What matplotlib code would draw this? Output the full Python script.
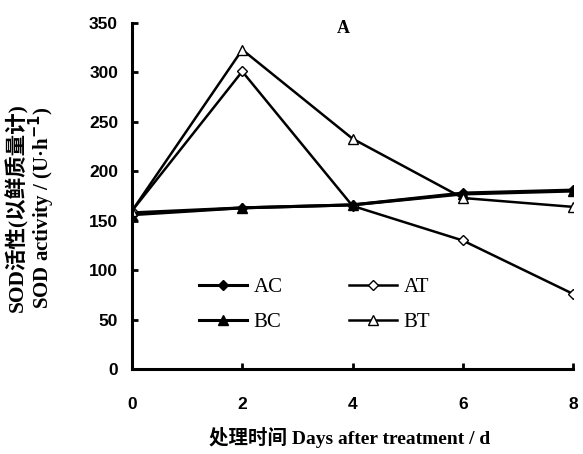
import matplotlib.pyplot as plt

days = [0, 2, 4, 6, 8]
ac = [158, 163, 166, 178, 181]
at = [160, 301, 165, 130, 76]
bc = [156, 163, 166, 177, 180]
bt = [160, 323, 233, 173, 164]

plt.rcParams['font.family'] = ['Liberation Serif', 'Noto Sans CJK SC']

fig = plt.figure(figsize=(5.83, 4.54), dpi=100)
ax = fig.add_axes([132 / 583, 1 - 369 / 454, 441 / 583, 346 / 454])

l_ac, = ax.plot(days, ac, color='black', lw=2.2, marker='D', ms=5, mfc='black', label='AC')
l_at, = ax.plot(days, at, color='black', lw=1.8, marker='D', ms=5, mfc='white', label='AT')
l_bc, = ax.plot(days, bc, color='black', lw=2.2, marker='^', ms=6.5, mfc='black', label='BC')
l_bt, = ax.plot(days, bt, color='black', lw=1.8, marker='^', ms=6.5, mfc='white', label='BT')

ax.set_xlim(0, 8)
ax.set_ylim(0, 350)
ax.set_xticks(days)
ax.set_yticks(range(0, 351, 50))
for s in ['top', 'right']:
    ax.spines[s].set_visible(False)
for s in ['left', 'bottom']:
    ax.spines[s].set_linewidth(2.2)
ax.tick_params(direction='in', width=2, length=4)
ax.tick_params(axis='y', pad=10)
ax.tick_params(axis='x', pad=20)
for lab in ax.get_xticklabels() + ax.get_yticklabels():
    lab.set_fontfamily('Liberation Sans')
    lab.set_fontweight('bold')
    lab.set_fontsize(12.5)

ax.text(3.83, 344, 'A', fontsize=13, fontweight='bold', ha='center', va='center')

# column-wise fill, so order gives rows AC/AT and BC/BT
ax.legend([l_ac, l_bc, l_at, l_bt], ['AC', 'BC', 'AT', 'BT'],
          loc='upper left', bbox_to_anchor=(0.153, 0.265), ncol=2, frameon=False,
          fontsize=15, handlelength=2.3, columnspacing=3.2, labelspacing=0.75,
          handletextpad=0.3, borderpad=0, borderaxespad=0)

fig.text(17 / 583, 1 - 208 / 454, 'SOD活性(以鲜质量计)', rotation=90, ha='center', va='center',
         fontsize=15.5, fontweight='bold', family=['Liberation Serif', 'Noto Sans CJK SC'])
fig.text(42 / 583, 1 - 208 / 454, 'SOD activity / (U·h$^{\\mathbf{-1}}$)', rotation=90, ha='center', va='center',
         fontsize=15, fontweight='bold')
fig.text(350 / 583, 1 - 437 / 454, '处理时间 Days after treatment / d', ha='center', va='center',
         fontsize=14, fontweight='bold', family=['Liberation Serif', 'Noto Sans CJK SC'])

fig.savefig('out.png', dpi=100)
